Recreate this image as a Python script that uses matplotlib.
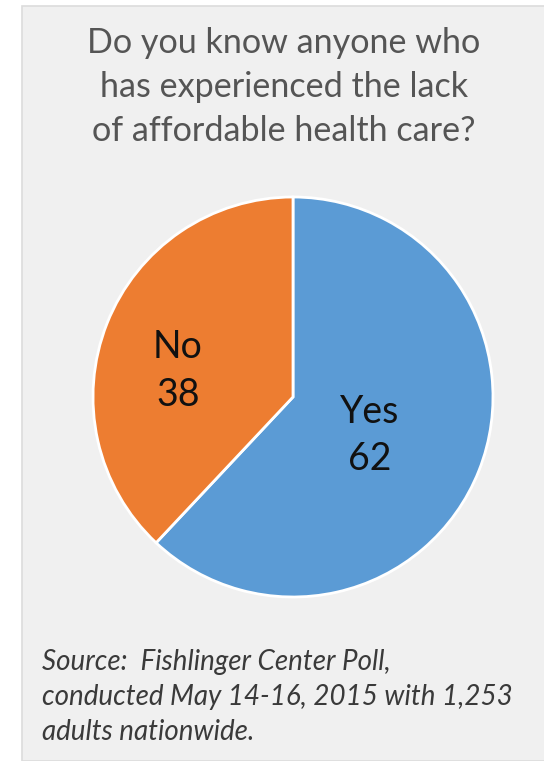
import numpy as np
import matplotlib.pyplot as plt
from matplotlib.patches import Rectangle

# Data
labels = ["Yes", "No"]
values = [62, 38]
colors = ["#5b9bd5", "#ed7d31"]

title = "Do you know anyone who\nhas experienced the lack\nof affordable health care?"
source = ("Source:  Fishlinger Center Poll,\n"
          "conducted May 14-16, 2015 with 1,253\n"
          "adults nationwide.")

W, H = 544, 761
fig = plt.figure(figsize=(W / 100, H / 100), dpi=100)
fig.patch.set_facecolor("white")

# Gray panel behind everything
fig.patches.append(Rectangle((22 / W, 0), 1 - 22 / W + 0.01, 1 - 6 / H,
                             transform=fig.transFigure, facecolor="#f0f0f0",
                             edgecolor="#dcdcdc", linewidth=1.2, zorder=-5))

fig.text(284 / W, 1 - 87 / H, title, ha="center", va="center",
         fontsize=24.6, color="#555555", family="Lato", linespacing=1.48)

fig.text(42 / W, 1 - 697 / H, source, ha="left", va="center",
         fontsize=20, color="#3a3a3a", family="Lato", style="italic",
         linespacing=1.43)

# Pie
ax = fig.add_axes([91 / W, 1 - 599 / H, 404 / W, 404 / H])
wedges, _ = ax.pie(values, colors=colors, startangle=90, counterclock=False,
                   radius=1, wedgeprops=dict(edgecolor="white", linewidth=2))
ax.set_xlim(-1.01, 1.01)
ax.set_ylim(-1.01, 1.01)
ax.set_aspect("equal")
ax.axis("off")

# Data labels placed along each wedge
dist = [0.43, 0.59]
shift = [-5, 9]
for w, lab, v, d, s in zip(wedges, labels, values, dist, shift):
    ang = np.deg2rad((w.theta1 + w.theta2) / 2 + s)
    ax.text(d * np.cos(ang), d * np.sin(ang), f"{lab}\n{v}", ha="center",
            va="center", fontsize=27, color="#111111", family="Lato",
            linespacing=1.4)

fig.savefig("out.png", dpi=100, facecolor=fig.get_facecolor())
